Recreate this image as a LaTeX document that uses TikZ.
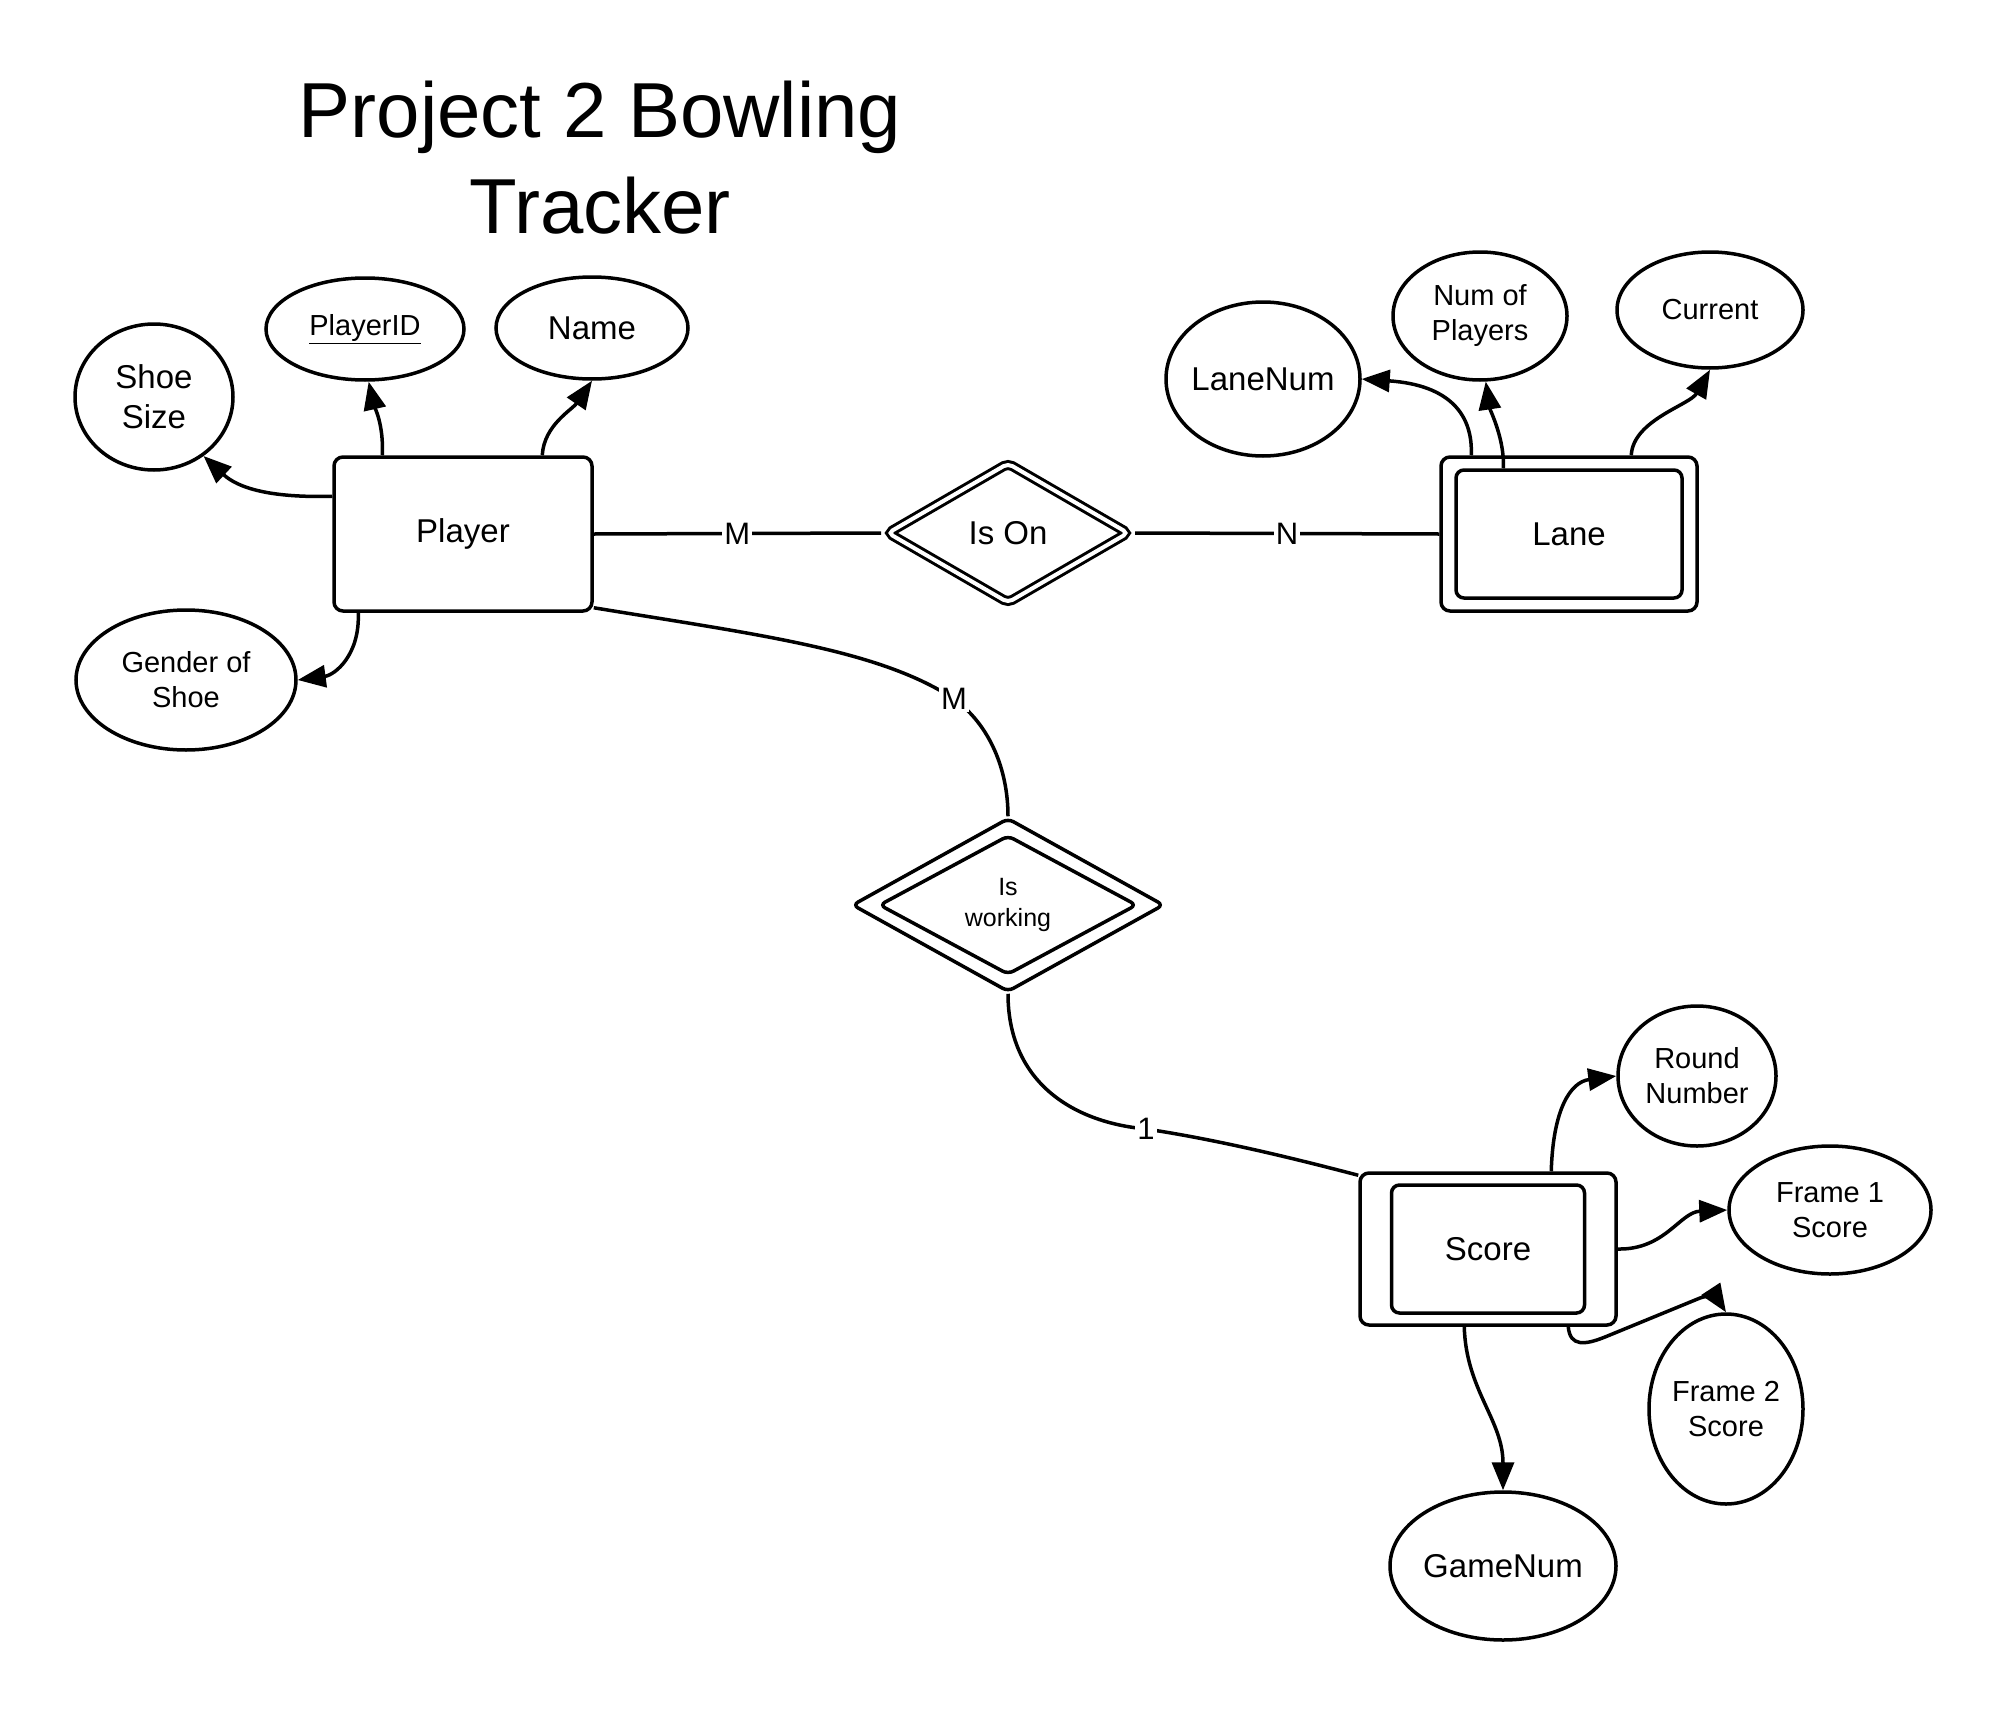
\documentclass[tikz,border=0pt]{standalone}
\usepackage{fontspec}
\setmainfont{Liberation Sans}
\usetikzlibrary{shapes.geometric,arrows.meta}
\begin{document}
\begin{tikzpicture}[x=1pt,y=-1pt,line width=3.5pt,
  every node/.style={inner sep=0pt},
  attr/.style={ellipse,draw,line width=3.5pt,fill=white},
  ent/.style={rectangle,draw,rounded corners=9pt,fill=white},
  txt/.style={font=\fontsize{29}{35}\selectfont,align=center},
  big/.style={font=\fontsize{33}{40}\selectfont,align=center},
  lbl/.style={fill=white,inner sep=2pt,font=\fontsize{31}{31}\selectfont},
  arr/.style={-{Triangle[length=28pt,width=22pt]}},
  every label/.style={inner sep=0pt}
]
\fill[white] (0,0) rectangle (2008,1718);
\useasboundingbox (0,0) rectangle (2008,1718);

% title
\node[font=\fontsize{78}{95}\selectfont,anchor=base] (t1) at (600,138) {Project 2 Bowling};
\node[font=\fontsize{78}{95}\selectfont,anchor=base] (t2) at (600,233) {Tracker};

% Player and attributes
\node[ent,minimum width=258pt,minimum height=154pt,big] (player) at (463,534) {Player};
\node[attr,minimum width=158pt,minimum height=146pt,label={[big]center:Shoe\\Size}] (shoe) at (154,397) {};
\node[attr,minimum width=198pt,minimum height=102pt,label={[txt]center:\underline{PlayerID}}] (pid) at (365,329) {};
\node[attr,minimum width=192pt,minimum height=102pt,label={[big]center:Name}] (name) at (592,328) {};
\node[attr,minimum width=220pt,minimum height=140pt,label={[txt]center:Gender of\\Shoe}] (gender) at (186,680) {};

% Is On
\node[diamond,draw,double,double distance=4pt,line width=3pt,rounded corners=5pt,fill=white,
  minimum width=244pt,minimum height=143pt,outer sep=5pt,big] (ison) at (1008,533) {Is On};

% Lane and attributes
\node[ent,minimum width=256pt,minimum height=154pt] (lane) at (1569,534) {};
\node[ent,minimum width=226pt,minimum height=128pt,rounded corners=8pt,big] (lanein) at (1569,534) {Lane};
\node[attr,minimum width=194pt,minimum height=154pt,label={[big]center:LaneNum}] (lanenum) at (1263,379) {};
\node[attr,minimum width=174pt,minimum height=128pt,label={[txt]center:Num of\\Players}] (nop) at (1480,316) {};
\node[attr,minimum width=186pt,minimum height=116pt,label={[txt]center:Current}] (cur) at (1710,310) {};

% Is working
\node[diamond,draw,rounded corners=6pt,fill=white,minimum width=312pt,minimum height=174pt] (isw) at (1008,905) {};
\node[diamond,draw,rounded corners=6pt,fill=white,minimum width=258pt,minimum height=120pt,
  font=\fontsize{25}{31}\selectfont,align=center] (iswin) at (1008,905) {Is\\working};

% Score and attributes
\node[ent,minimum width=256pt,minimum height=152pt] (score) at (1488,1249) {};
\node[ent,minimum width=193pt,minimum height=128pt,rounded corners=8pt,big] (scorein) at (1488,1249) {Score};
\node[attr,minimum width=158pt,minimum height=140pt,label={[txt]center:Round\\Number}] (round) at (1697,1076) {};
\node[attr,minimum width=202pt,minimum height=128pt,label={[txt]center:Frame 1\\Score}] (f1) at (1830,1210) {};
\node[attr,minimum width=154pt,minimum height=190pt,label={[txt]center:Frame 2\\Score}] (f2) at (1726,1409) {};
\node[attr,minimum width=226pt,minimum height=148pt,label={[big]center:GameNum}] (game) at (1503,1566) {};

% connectors
\draw[arr] ([yshift=-41pt]player.north west) .. controls (270,498) and (238,488) .. (shoe.-50);
\draw[arr] ([xshift=50pt]player.north west) .. controls (384,425) and (374,405) .. (pid.-86);
\draw[arr] ([xshift=210pt]player.north west) .. controls (544,425) and (572,410) .. (name.-90);
\draw[arr] ([xshift=26pt]player.south west) .. controls (360,655) and (335,675) .. (gender.east);
\draw (player.east) -- node[lbl]{M} (ison.west);
\draw (ison.east) -- node[lbl]{N} (lane.west);
\draw ([yshift=5pt]player.south east) .. controls (760,635) and (880,650) .. (954,699) node[lbl]{M}
   .. controls (990,725) and (1008,770) .. (isw.north);
\draw (isw.south) .. controls (1008,1080) and (1070,1122) .. (1146,1129) node[lbl]{1}
   .. controls (1220,1140) and (1300,1160) .. ([yshift=-4pt]score.north west);
\draw[arr] ([xshift=32pt]lane.north west) .. controls (1473,415) and (1450,385) .. (lanenum.east);
\draw[arr] ([xshift=49pt]lanein.north west) .. controls (1505,440) and (1490,410) .. (nop.-85);
\draw[arr] ([xshift=192pt]lane.north west) .. controls (1633,420) and (1690,405) .. (cur.-90);
\draw[arr] ([xshift=193pt]score.north west) .. controls (1553,1110) and (1570,1082) .. (round.west);
\draw[arr] (score.east) .. controls (1665,1250) and (1680,1212) .. (f1.west);
\draw[arr] ([xshift=210pt]score.south west) .. controls (1570,1347) and (1585,1345) .. (1605,1337)
   -- (1700,1298) .. controls (1710,1294) and (1718,1300) .. (f2.north);
\draw[arr] ([xshift=106pt]score.south west) .. controls (1466,1390) and (1503,1420) .. (game.north);
\end{tikzpicture}
\end{document}
